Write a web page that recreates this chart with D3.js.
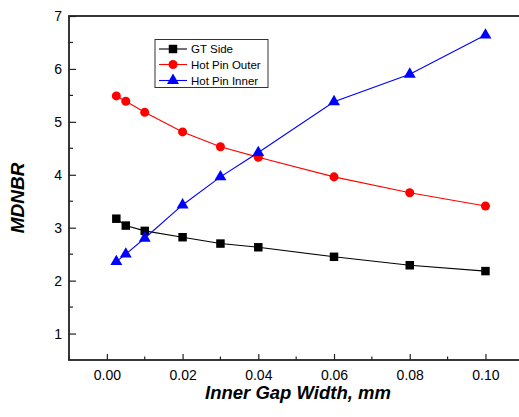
<!DOCTYPE html>
<html>
<head>
<meta charset="utf-8">
<script src="https://cdn.jsdelivr.net/npm/d3@7"></script>
<style>
html,body{margin:0;padding:0;background:#fff;}
svg{display:block;font-family:"Liberation Sans",Arial,sans-serif;}
</style>
</head>
<body>
<svg id="chart" width="519" height="417"></svg>
<script>
const gapWidth = [0.0025, 0.005, 0.01, 0.02, 0.03, 0.04, 0.06, 0.08, 0.10];
const gtSide = [3.17, 3.04, 2.94, 2.82, 2.70, 2.63, 2.45, 2.29, 2.18];
const hotPinOuter = [5.49, 5.39, 5.18, 4.81, 4.53, 4.33, 3.96, 3.66, 3.41];
const hotPinInner = [2.36, 2.50, 2.80, 3.43, 3.96, 4.42, 5.38, 5.90, 6.64];
const seriesNames = ["GT Side", "Hot Pin Outer", "Hot Pin Inner"];
const xTicks = [0.00, 0.02, 0.04, 0.06, 0.08, 0.10];
const yTicks = [1, 2, 3, 4, 5, 6, 7];

const svg = d3.select("#chart");
const L = 69, T = 16, B = 360;
const x = d3.scaleLinear().domain([-0.01, 0.11]).range([L, L + 37.86 * 12]);
const y = d3.scaleLinear().domain([0.5, 7]).range([B, T]);
const R = x.range()[1];

const axisColor = "#222";
const gx = svg.append("g").attr("transform", `translate(0,${B})`)
  .call(d3.axisBottom(x).tickValues(xTicks).tickSize(-6).tickPadding(10).tickFormat(d3.format(".2f")));
const gy = svg.append("g").attr("transform", `translate(${L},0)`)
  .call(d3.axisLeft(y).tickValues(yTicks).tickSize(-7).tickPadding(7).tickFormat(d3.format("d")));
[gx, gy].forEach(g => {
  g.select(".domain").remove();
  g.selectAll(".tick line").attr("stroke", axisColor).attr("stroke-width", 1.2);
  g.selectAll(".tick text").attr("font-size", 14).attr("fill", "#000")
    .attr("font-family", "'Liberation Sans', Arial, sans-serif");
});
const xMinor = d3.range(-0.01, 0.115, 0.01).filter(v => !xTicks.some(t => Math.abs(t - v) < 1e-9));
svg.append("g").selectAll("line").data(xMinor).join("line")
  .attr("x1", d => x(d)).attr("x2", d => x(d)).attr("y1", B).attr("y2", B - 3.5)
  .attr("stroke", axisColor).attr("stroke-width", 1.2);
const yMinor = d3.range(1.5, 7, 1);
svg.append("g").selectAll("line").data(yMinor).join("line")
  .attr("x1", L).attr("x2", L + 4).attr("y1", d => y(d)).attr("y2", d => y(d))
  .attr("stroke", axisColor).attr("stroke-width", 1.2);

svg.append("rect").attr("x", L).attr("y", T).attr("width", R - L).attr("height", B - T)
  .attr("fill", "none").attr("stroke", axisColor).attr("stroke-width", 1.8);

svg.append("text").attr("x", 298).attr("y", 399).attr("text-anchor", "middle")
  .attr("font-size", 18.5).attr("font-weight", "bold").attr("font-style", "italic")
  .text("Inner Gap Width, mm");
svg.append("text").attr("transform", "translate(24,198) rotate(-90)").attr("text-anchor", "middle")
  .attr("font-size", 19).attr("font-weight", "bold").attr("font-style", "italic")
  .text("MDNBR");

const series = [
  {name: seriesNames[0], values: gtSide, color: "#000000", marker: "square"},
  {name: seriesNames[1], values: hotPinOuter, color: "#ff0000", marker: "circle"},
  {name: seriesNames[2], values: hotPinInner, color: "#0000ff", marker: "triangle"}
];
const symType = {square: d3.symbolSquare, circle: d3.symbolCircle, triangle: d3.symbolTriangle};
const symSize = {square: 72, circle: 64, triangle: 62};
const line = d3.line().x(d => x(d[0])).y(d => y(d[1]));

series.forEach(s => {
  const pts = gapWidth.map((g, i) => [g, s.values[i]]);
  svg.append("path").datum(pts).attr("d", line).attr("fill", "none")
    .attr("stroke", s.color).attr("stroke-width", 1.1);
  svg.append("g").selectAll("path").data(pts).join("path")
    .attr("transform", d => `translate(${x(d[0])},${y(d[1])})`)
    .attr("d", d3.symbol().type(symType[s.marker]).size(symSize[s.marker]))
    .attr("fill", s.color);
});

const lg = svg.append("g");
lg.append("rect").attr("x", 155).attr("y", 39.5).attr("width", 113).attr("height", 48)
  .attr("fill", "#fff").attr("stroke", "#333").attr("stroke-width", 1);
const legY = [49, 64.5, 80.5];
series.forEach((s, i) => {
  lg.append("line").attr("x1", 159).attr("x2", 187).attr("y1", legY[i]).attr("y2", legY[i])
    .attr("stroke", s.color).attr("stroke-width", 1.1);
  lg.append("path").attr("transform", `translate(173,${legY[i]})`)
    .attr("d", d3.symbol().type(symType[s.marker]).size(symSize[s.marker]))
    .attr("fill", s.color);
  lg.append("text").attr("x", 191).attr("y", legY[i] + 4).attr("font-size", 11.5)
    .text(s.name);
});
</script>
</body>
</html>
